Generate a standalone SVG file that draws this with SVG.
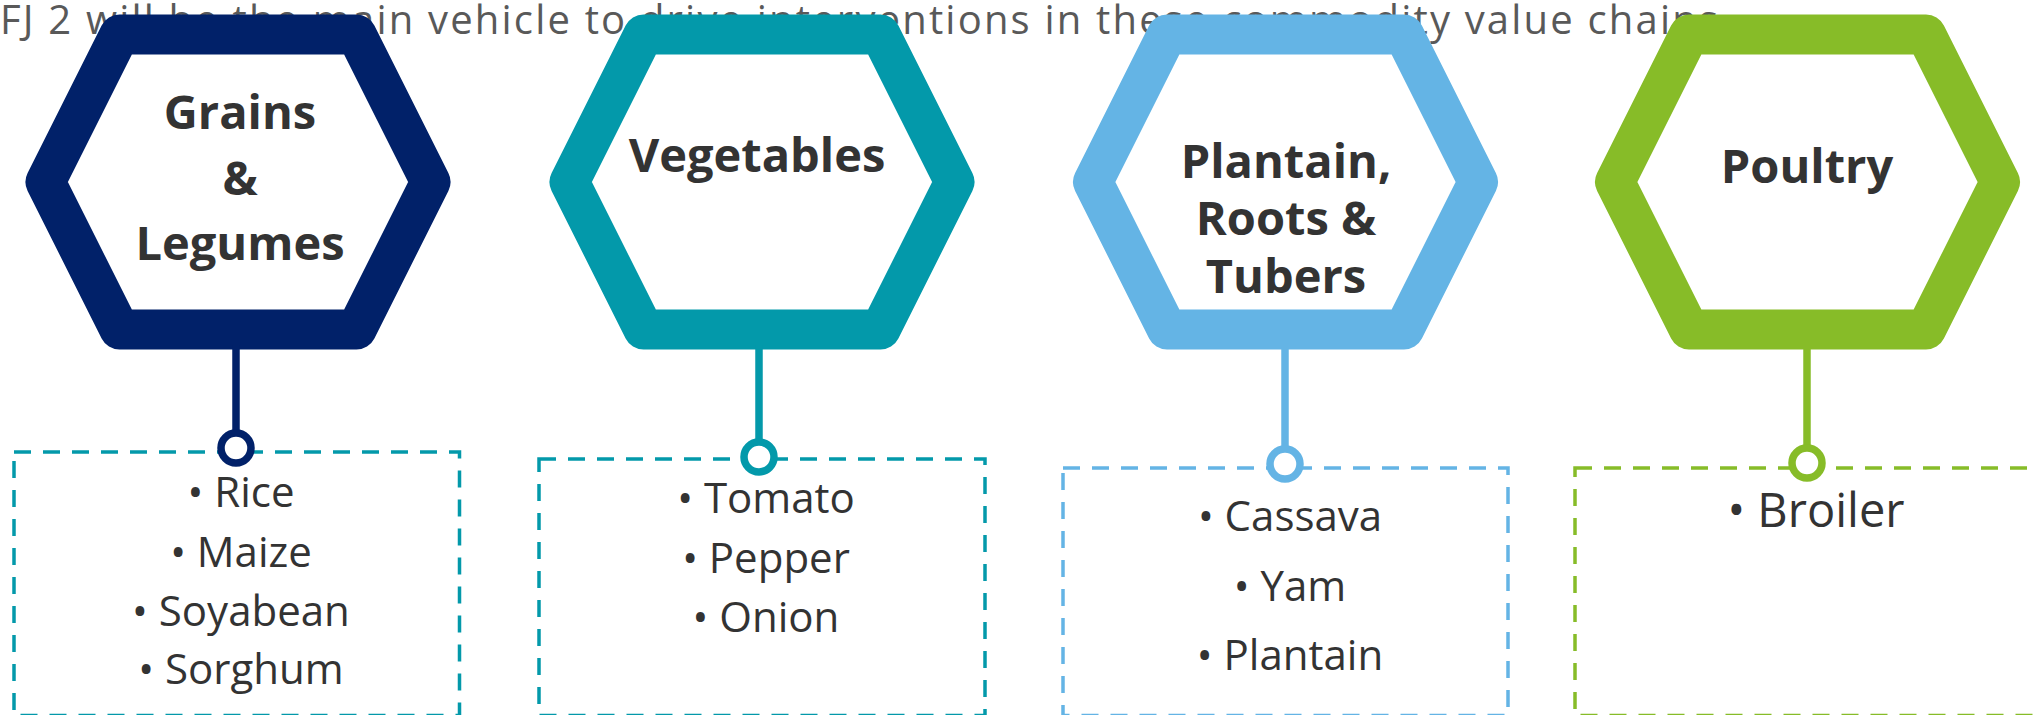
<svg xmlns="http://www.w3.org/2000/svg" width="2036" height="715" viewBox="0 0 2036 715">
<style>
.title{font-family:"Open Sans","Liberation Sans",sans-serif;font-size:40px;fill:#595959}
.hex{fill:#ffffff;stroke-width:40;stroke-linejoin:round}
.lbl{font-family:"Open Sans","Liberation Sans",sans-serif;font-size:47px;font-weight:bold;fill:#333333;text-anchor:middle}
.box{fill:none;stroke-width:3.5;stroke-dasharray:17 12}
.item{font-family:"Open Sans","Liberation Sans",sans-serif;font-size:42px;fill:#333333;text-anchor:middle}
.stem{stroke-width:7.5;fill:none}
.ring{fill:#ffffff;stroke-width:7.5}
.navy{stroke:#012169}
.teal{stroke:#0399AA}
.sky{stroke:#64B4E5}
.lime{stroke:#87BC28}
</style>
<rect x="0" y="0" width="2036" height="715" fill="#ffffff"/>
<text class="title" x="0" y="34" textLength="1718">FJ 2 will be the main vehicle to drive interventions in these commodity value chains</text>

<g id="node-grains">
<polygon class="hex navy" points="45.5,182 119.5,34.5 356.5,34.5 430.5,182 356.5,329.5 119.5,329.5"/>
<text class="lbl" x="240" y="129">Grains</text>
<text class="lbl" x="240" y="195">&amp;</text>
<text class="lbl" x="240" y="260">Legumes</text>
</g>
<g id="node-vegetables">
<polygon class="hex teal" points="569.5,182 643.5,34.5 880.5,34.5 954.5,182 880.5,329.5 643.5,329.5"/>
<text class="lbl" x="757" y="172">Vegetables</text>
</g>
<g id="node-roots">
<polygon class="hex sky" points="1093,182 1167,34.5 1404,34.5 1478,182 1404,329.5 1167,329.5"/>
<text class="lbl" x="1286" y="178">Plantain,</text>
<text class="lbl" x="1286" y="235">Roots &amp;</text>
<text class="lbl" x="1286" y="293">Tubers</text>
</g>
<g id="node-poultry">
<polygon class="hex lime" points="1615,182 1689,34.5 1926,34.5 2000,182 1926,329.5 1689,329.5"/>
<text class="lbl" x="1807" y="183">Poultry</text>
</g>

<g id="list-grains">
<rect class="box teal" x="14" y="452" width="445.5" height="263.5"/>
<text class="item" x="241" y="507">• Rice</text>
<text class="item" x="241" y="567">• Maize</text>
<text class="item" x="241" y="626">• Soyabean</text>
<text class="item" x="241" y="684">• Sorghum</text>
</g>
<g id="list-vegetables">
<rect class="box teal" x="539" y="459" width="446" height="256.5"/>
<text class="item" x="766" y="513">• Tomato</text>
<text class="item" x="766" y="573">• Pepper</text>
<text class="item" x="766" y="632">• Onion</text>
</g>
<g id="list-roots">
<rect class="box sky" x="1063" y="468" width="445" height="247.5"/>
<text class="item" x="1290" y="531">• Cassava</text>
<text class="item" x="1290" y="601">• Yam</text>
<text class="item" x="1290" y="670">• Plantain</text>
</g>
<g id="list-poultry">
<rect class="box lime" x="1575" y="468" width="540" height="247.5"/>
<text class="item" x="1816" y="527" style="font-size:47px">• Broiler</text>
</g>

<g id="connectors">
<line class="stem navy" x1="236" y1="345" x2="236" y2="433"/>
<circle class="ring navy" cx="236" cy="448" r="15"/>
<line class="stem teal" x1="759" y1="345" x2="759" y2="442"/>
<circle class="ring teal" cx="759" cy="457" r="15"/>
<line class="stem sky" x1="1285" y1="345" x2="1285" y2="449"/>
<circle class="ring sky" cx="1285" cy="464" r="15"/>
<line class="stem lime" x1="1807" y1="345" x2="1807" y2="448"/>
<circle class="ring lime" cx="1807" cy="463" r="15"/>
</g>
</svg>
